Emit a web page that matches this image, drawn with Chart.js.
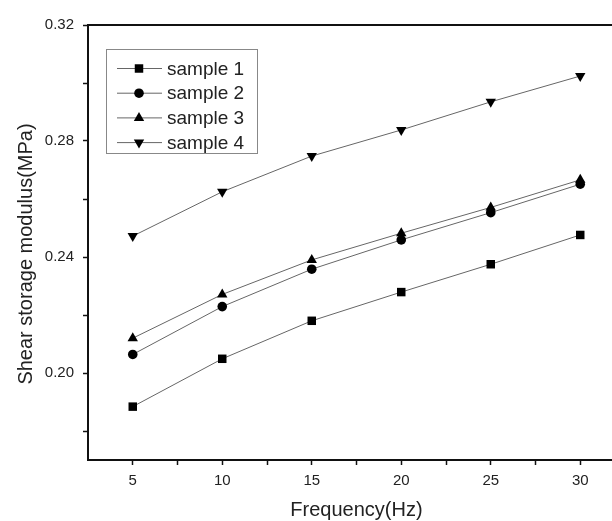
<!DOCTYPE html>
<html>
<head>
<meta charset="utf-8">
<script src="https://cdn.jsdelivr.net/npm/chart.js@4.4.0/dist/chart.umd.min.js"></script>
<style>
  html, body { margin: 0; padding: 0; background: #fff; overflow: hidden; }
  #wrap { width: 640px; height: 521px; }
</style>
</head>
<body>
<div id="wrap"><canvas id="chart" width="640" height="521"></canvas></div>
<script>
// values
const freq = [5, 10, 15, 20, 25, 30];
const sample1 = [0.1884, 0.2049, 0.2180, 0.2279, 0.2375, 0.2476];
const sample2 = [0.2064, 0.2229, 0.2358, 0.2459, 0.2553, 0.2651];
const sample3 = [0.2120, 0.2271, 0.2390, 0.2482, 0.2571, 0.2666];
const sample4 = [0.2472, 0.2625, 0.2748, 0.2838, 0.2935, 0.3024];
const seriesNames = ['sample 1', 'sample 2', 'sample 3', 'sample 4'];
const xTicks = [5, 7.5, 10, 12.5, 15, 17.5, 20, 22.5, 25, 27.5, 30];
const yTicks = [0.18, 0.20, 0.22, 0.24, 0.26, 0.28, 0.30, 0.32];

const FONT = "'Liberation Sans', Arial, sans-serif";

function pts(ys) { return freq.map((x, i) => ({ x: x, y: ys[i] })); }

const styles = [
  { pointStyle: 'rect', pointRadius: 6, pointRotation: 0 },
  { pointStyle: 'circle', pointRadius: 4.8, pointRotation: 0 },
  { pointStyle: 'triangle', pointRadius: 6, pointRotation: 0 },
  { pointStyle: 'triangle', pointRadius: 6, pointRotation: 180 }
];

const datasets = [sample1, sample2, sample3, sample4].map((ys, i) => ({
  label: seriesNames[i],
  data: pts(ys),
  borderColor: '#666',
  borderWidth: 1,
  backgroundColor: '#000',
  pointBackgroundColor: '#000',
  pointBorderColor: '#000',
  pointBorderWidth: 0,
  pointStyle: styles[i].pointStyle,
  pointRadius: styles[i].pointRadius,
  pointRotation: styles[i].pointRotation,
  tension: 0
}));

// frame line on top, titles and the boxed legend
const decor = {
  id: 'decor',
  afterDraw(chart) {
    const ctx = chart.ctx, a = chart.chartArea;
    ctx.save();
    ctx.strokeStyle = '#111';
    ctx.lineWidth = 2;
    ctx.beginPath();
    ctx.moveTo(a.left, a.top);
    ctx.lineTo(a.right, a.top);
    ctx.lineTo(a.right, a.bottom);
    ctx.stroke();

    ctx.fillStyle = '#222';
    ctx.font = '20px ' + FONT;
    ctx.textAlign = 'center';
    ctx.textBaseline = 'middle';
    ctx.fillText('Frequency(Hz)', (a.left + a.right) / 2, 510);
    ctx.translate(26, 254);
    ctx.rotate(-Math.PI / 2);
    ctx.fillText('Shear storage modulus(MPa)', 0, 0);
    ctx.restore();

    // legend
    ctx.save();
    ctx.strokeStyle = '#888';
    ctx.lineWidth = 1;
    ctx.strokeRect(106.5, 49.5, 151, 104);
    ctx.font = '19px ' + FONT;
    ctx.textBaseline = 'middle';
    ctx.textAlign = 'left';
    chart.data.datasets.forEach((ds, i) => {
      const y = 68.5 + i * 24.7;
      ctx.strokeStyle = ds.borderColor;
      ctx.lineWidth = 1;
      ctx.beginPath();
      ctx.moveTo(117, y);
      ctx.lineTo(162, y);
      ctx.stroke();
      ctx.fillStyle = '#000';
      Chart.helpers.drawPoint(ctx, {
        pointStyle: ds.pointStyle, radius: ds.pointRadius,
        rotation: ds.pointRotation, borderWidth: 0
      }, 139, y);
      ctx.fillStyle = '#222';
      ctx.fillText(ds.label, 167, y + 1);
    });
    ctx.restore();
  }
};

new Chart(document.getElementById('chart'), {
  type: 'line',
  data: { datasets: datasets },
  options: {
    responsive: false,
    animation: false,
    layout: { padding: { top: 25, right: 15, left: 0, bottom: 0 } },
    plugins: { legend: { display: false }, tooltip: { enabled: false } },
    scales: {
      x: {
        type: 'linear', min: 2.5, max: 32.5,
        afterBuildTicks: s => { s.ticks = xTicks.map(v => ({ value: v })); },
        afterFit: s => { s.height = 61; },
        grid: { drawOnChartArea: false, tickLength: 5, tickColor: '#111', tickWidth: 1.5 },
        border: { color: '#111', width: 2 },
        ticks: {
          color: '#222', padding: 7, font: { family: FONT, size: 15 },
          maxRotation: 0, autoSkip: false,
          callback: v => (v % 5 === 0 ? String(v) : '')
        }
      },
      y: {
        type: 'linear', min: 0.17, max: 0.32,
        afterBuildTicks: s => { s.ticks = yTicks.map(v => ({ value: v })); },
        afterFit: s => { s.width = 88; },
        grid: { drawOnChartArea: false, tickLength: 5, tickColor: '#111', tickWidth: 1.5 },
        border: { color: '#111', width: 2 },
        ticks: {
          color: '#222', padding: 9, font: { family: FONT, size: 15 },
          autoSkip: false,
          callback: v => (Math.round(v * 100) % 4 === 0 ? v.toFixed(2) : '')
        }
      }
    }
  },
  plugins: [decor]
});
</script>
</body>
</html>
